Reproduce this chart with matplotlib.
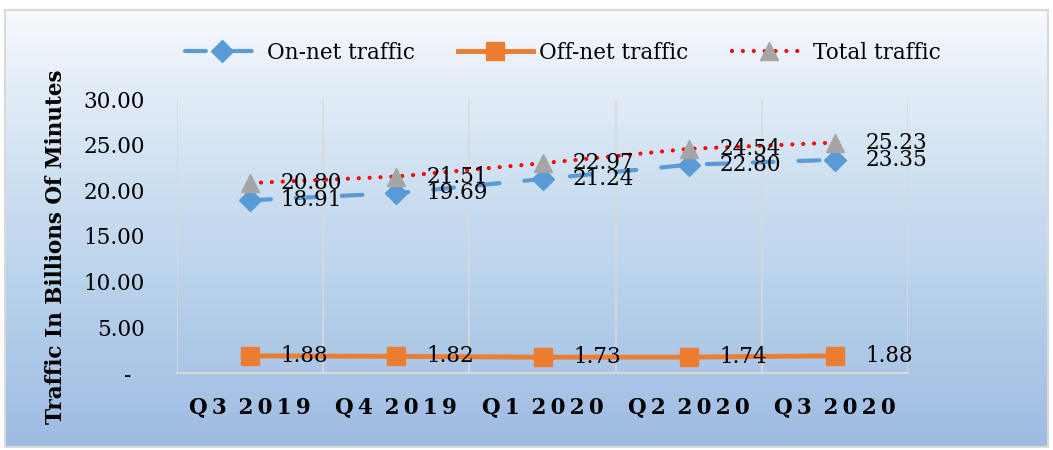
import numpy as np
import matplotlib.pyplot as plt
from matplotlib.colors import LinearSegmentedColormap
from matplotlib.patches import Rectangle
from matplotlib.ticker import FuncFormatter

quarters = ['Q3 2019', 'Q4 2019', 'Q1 2020', 'Q2 2020', 'Q3 2020']
on_net = [18.91, 19.69, 21.24, 22.80, 23.35]
off_net = [1.88, 1.82, 1.73, 1.74, 1.88]
total = [20.80, 21.51, 22.97, 24.54, 25.23]

plt.rcParams['font.family'] = ['DejaVu Serif', 'DejaVu Sans']

fig = plt.figure(figsize=(10.53, 4.5), dpi=100)

# background gradient of the chart area
bg = fig.add_axes([0, 0, 1, 1], zorder=-10)
bg.set_axis_off()
cmap = LinearSegmentedColormap.from_list('bg', ['#f6f9fd', '#d3e3f3', '#b6d0eb', '#9fbbe2'])
grad = np.linspace(0, 1, 256).reshape(-1, 1)
bg.imshow(grad, aspect='auto', cmap=cmap, extent=[5, 1048, 447, 10])
bg.set_xlim(0, 1053)
bg.set_ylim(450, 0)
bg.add_patch(Rectangle((5, 10), 1043, 437, fill=False, edgecolor='#d9d9d9', lw=1.5))

ax = fig.add_axes([177 / 1053, 1 - 373 / 450, (908 - 177) / 1053, (373 - 99) / 450])
ax.patch.set_alpha(0)
x = np.arange(len(quarters))

ax.plot(x, on_net, color='#5b9bd5', lw=3, linestyle=(0, (5.0, 3.0, 0.0, 3.0)),
        dash_capstyle='round', marker='D', ms=11, label='On-net traffic', zorder=3)
ax.plot(x, off_net, color='#ed7d31', lw=3.5, marker='s', ms=13,
        label='Off-net traffic', zorder=3)
ax.plot(x, total, color='#ff0000', lw=3, linestyle=(0, (0.01, 2.6)),
        dash_capstyle='round', marker='^', ms=13, mfc='#a5a5a5', mec='#a5a5a5',
        label='Total traffic', zorder=3)

for series in (on_net, off_net, total):
    for xi, v in zip(x, series):
        ax.annotate(f'{v:.2f}', (xi, v), xytext=(22, 0), textcoords='offset points',
                    ha='left', va='center', fontsize=15.5, zorder=4)


def spaced(label):
    # wide letter spacing as in the original axis labels
    return ' \u2009'.join('\u2009'.join(part) for part in label.split(' '))


ax.set_xlim(-0.5, 4.5)
ax.set_ylim(0, 30)
ax.set_yticks(np.arange(0, 31, 5))
ax.yaxis.set_major_formatter(FuncFormatter(lambda v, p: '-  ' if v == 0 else f'{v:.2f}'))
ax.set_xticks(x)
ax.set_xticklabels([spaced(q) for q in quarters], fontweight='bold', fontsize=15.5)
ax.tick_params(axis='y', length=0, pad=23, labelsize=15.5)
ax.tick_params(axis='x', length=0, pad=17)

ax.set_xticks(np.arange(-0.5, 5, 1), minor=True)
ax.grid(which='minor', axis='x', color='#d9d9d9', lw=1.2)
ax.tick_params(which='minor', length=0)
for s in ['top', 'right', 'left']:
    ax.spines[s].set_visible(False)
ax.spines['bottom'].set_color('#d9d9d9')
ax.spines['bottom'].set_linewidth(1.5)

fig.text(56 / 1053, 1 - 247 / 450, 'Traffic In Billions Of Minutes', rotation=90,
         ha='center', va='center', fontweight='bold', fontsize=15.5)

fig.legend(loc='center', bbox_to_anchor=(563 / 1053, 1 - 53 / 450), ncol=3,
           frameon=False, fontsize=15.5, handlelength=3.5, handletextpad=0.3,
           columnspacing=2.0)

fig.savefig('out.png', dpi=100)
